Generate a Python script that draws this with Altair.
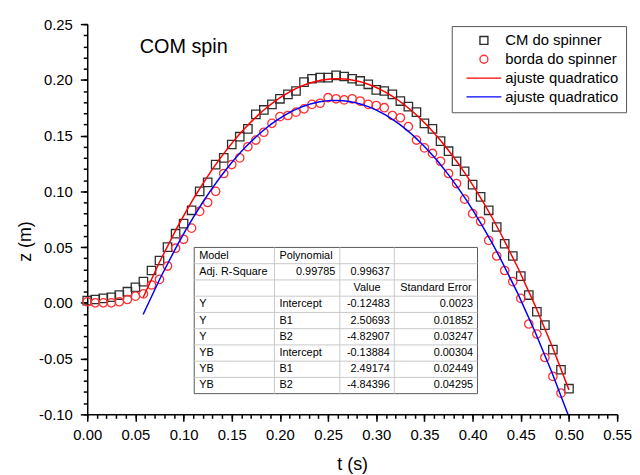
import altair as alt
import pandas as pd

FONT = "Liberation Sans"

# ---------------- data ----------------
t_s = [0.0000, 0.0083, 0.0167, 0.0250, 0.0333, 0.0417, 0.0500, 0.0583, 0.0667, 0.0750,
       0.0833, 0.0917, 0.1000, 0.1083, 0.1167, 0.1250, 0.1333, 0.1417, 0.1500, 0.1583,
       0.1667, 0.1750, 0.1833, 0.1917, 0.2000, 0.2083, 0.2167, 0.2250, 0.2333, 0.2417,
       0.2500, 0.2583, 0.2667, 0.2750, 0.2833, 0.2917, 0.3000, 0.3083, 0.3167, 0.3250,
       0.3333, 0.3417, 0.3500, 0.3583, 0.3667, 0.3750, 0.3833, 0.3917, 0.4000, 0.4083,
       0.4167, 0.4250, 0.4333, 0.4417, 0.4500, 0.4583, 0.4667, 0.4750, 0.4833, 0.4917,
       0.5000]

cm_z = [0.002, 0.003, 0.004, 0.005, 0.007, 0.010, 0.014, 0.019, 0.029, 0.038,
        0.050, 0.062, 0.071, 0.083, 0.100, 0.108, 0.124, 0.130, 0.142, 0.149,
        0.156, 0.169, 0.173, 0.178, 0.183, 0.187, 0.190, 0.198, 0.201, 0.202,
        0.202, 0.204, 0.203, 0.201, 0.199, 0.196, 0.191, 0.190, 0.187, 0.181,
        0.176, 0.171, 0.161, 0.156, 0.145, 0.136, 0.127, 0.118, 0.106, 0.095,
        0.083, 0.068, 0.053, 0.042, 0.024, 0.007, -0.008, -0.020, -0.042, -0.060,
        -0.077]

borda_z = [0.001, 0.000, 0.000, 0.000, 0.001, 0.003, 0.006, 0.008, 0.016, 0.021,
           0.033, 0.049, 0.057, 0.067, 0.082, 0.090, 0.100, 0.116, 0.124, 0.130,
           0.140, 0.146, 0.153, 0.161, 0.167, 0.168, 0.171, 0.174, 0.178, 0.179,
           0.184, 0.183, 0.182, 0.183, 0.181, 0.178, 0.177, 0.175, 0.168, 0.166,
           0.158, 0.146, 0.139, 0.134, 0.127, 0.116, 0.107, 0.093, 0.080, 0.073,
           0.056, 0.042, 0.029, 0.019, 0.004, -0.019, -0.028, -0.049, -0.066, -0.081]

series_names = ["CM do spinner", "borda do spinner", "ajuste quadratico", "ajuste quadratico "]
series_colors = ["#2e2e2e", "#ff3030", "#ff0000", "#0000ff"]

table_rows = [
    ["Model", "Polynomial", "", ""],
    ["Adj. R-Square", "0.99785", "0.99637", ""],
    ["", "", "Value", "Standard Error"],
    ["Y", "Intercept", "-0.12483", "0.0023"],
    ["Y", "B1", "2.50693", "0.01852"],
    ["Y", "B2", "-4.82907", "0.03247"],
    ["YB", "Intercept", "-0.13884", "0.00304"],
    ["YB", "B1", "2.49174", "0.02449"],
    ["YB", "B2", "-4.84396", "0.04295"],
]

annotation = "COM spin"
x_title = "t (s)"
y_title = "z (m)"

x_major = [0.00, 0.05, 0.10, 0.15, 0.20, 0.25, 0.30, 0.35, 0.40, 0.45, 0.50, 0.55]
y_major = [-0.10, -0.05, 0.00, 0.05, 0.10, 0.15, 0.20, 0.25]
x_minor = [round(0.01 * k, 2) for k in range(56)]
y_minor = [round(-0.10 + 0.01 * k, 2) for k in range(36)]

# ---------------- layout ----------------
T_DOMAIN = [0.0, 0.55]
Z_DOMAIN = [-0.10, 0.25]
PLOT_LEFT, PLOT_TOP, PLOT_W, PLOT_H = 88, 22, 535, 394   # page pixels


def t_at(px):
    return T_DOMAIN[0] + (px - PLOT_LEFT) / PLOT_W * (T_DOMAIN[1] - T_DOMAIN[0])


def z_at(py):
    return Z_DOMAIN[1] - (py - PLOT_TOP) / PLOT_H * (Z_DOMAIN[1] - Z_DOMAIN[0])


pts = pd.DataFrame({
    "t": t_s + t_s[:len(borda_z)],
    "z": cm_z + borda_z,
    "serie": [series_names[0]] * len(cm_z) + [series_names[1]] * len(borda_z),
})

lab = "datum.value < 0 ? '-' + format(-datum.value, '.2f') : format(datum.value, '.2f')"

common_axis = dict(grid=False, domainColor="black", domainWidth=1.5, tickColor="black",
                   tickWidth=1.5, tickSize=7, labelFont=FONT, labelFontSize=15,
                   labelColor="black", titleFont=FONT, titleFontSize=18,
                   titleFontWeight="normal", titleColor="black", labelOverlap=False,
                   labelFlush=False, labelExpr=lab)
x_axis = alt.Axis(values=x_major, orient="bottom", labelPadding=6, titlePadding=14, **common_axis)
y_axis = alt.Axis(values=y_major, orient="left", labelPadding=8, titlePadding=4, titleY=219,
                  **common_axis)

minor_common = dict(grid=False, domain=False, labels=False, ticks=True, tickSize=4,
                    tickWidth=1.5, tickColor="black")
x_minor_axis = alt.Axis(values=x_minor, orient="bottom", **minor_common)
y_minor_axis = alt.Axis(values=y_minor, orient="left", **minor_common)

xs = alt.Scale(domain=T_DOMAIN, nice=False, zero=False)
ys = alt.Scale(domain=Z_DOMAIN, nice=False, zero=False)


def X(field="t"):
    return alt.X(f"{field}:Q", scale=xs, axis=x_axis, title=x_title)


def Y(field="z"):
    return alt.Y(f"{field}:Q", scale=ys, axis=y_axis, title=y_title)


line_path = "M-4.4,0L4.4,0"
color_scale = alt.Scale(domain=series_names, range=series_colors)
shape_scale = alt.Scale(domain=series_names, range=["square", "circle", line_path, line_path])
legend = alt.Legend(title=None, orient="none", legendX=368, legendY=2, direction="vertical",
                    symbolSize=64, symbolStrokeWidth=1.4, symbolOffset=18, labelOffset=14,
                    labelFont=FONT, labelFontSize=15, labelColor="black", padding=7,
                    rowPadding=3, strokeColor="#555555", fillColor="white")

points = alt.Chart(pts).mark_point(filled=False, size=72, strokeWidth=1.3, opacity=1).encode(
    x=X(), y=Y(),
    color=alt.Color("serie:N", scale=color_scale, legend=legend),
    shape=alt.Shape("serie:N", scale=shape_scale, legend=legend),
)


def fit_line(src, name):
    return (alt.Chart(pts)
            .transform_filter(alt.datum.serie == src)
            .transform_filter(alt.datum.t >= 0.058)
            .transform_regression("t", "z", method="poly", order=2, extent=[0.058, 0.5])
            .transform_calculate(serie=f"'{name}'")
            .mark_line(strokeWidth=1.5, clip=True)
            .encode(x=X(), y=Y(), color=alt.Color("serie:N", scale=color_scale, legend=legend)))


red_fit = fit_line(series_names[0], series_names[2])
blue_fit = fit_line(series_names[1], series_names[3])

# ---------------- table ----------------
col_edges = [196, 277, 343, 398, 482]
row_top, row_h = 247.5, 16.4
n_rows = len(table_rows)
row_bot = row_top + row_h * n_rows

bg = pd.DataFrame({"x": [t_at(col_edges[0])], "x2": [t_at(col_edges[-1])],
                   "y": [z_at(row_top)], "y2": [z_at(row_bot)]})
table_bg = alt.Chart(bg).mark_rect(fill="white", stroke="#5a5a5a", strokeWidth=1).encode(
    x=X("x"), x2="x2:Q", y=Y("y"), y2="y2:Q")

h_lines = pd.DataFrame({"x": [t_at(col_edges[0])] * (n_rows - 1),
                        "x2": [t_at(col_edges[-1])] * (n_rows - 1),
                        "y": [z_at(row_top + row_h * k) for k in range(1, n_rows)]})
v_lines = pd.DataFrame({"x": [t_at(c) for c in col_edges[1:-1]],
                        "y": [z_at(row_top)] * 3, "y2": [z_at(row_bot)] * 3})
table_h = alt.Chart(h_lines).mark_rule(color="#c8c8c8", strokeWidth=1).encode(
    x=X("x"), x2="x2:Q", y=Y("y"))
table_v = alt.Chart(v_lines).mark_rule(color="#c8c8c8", strokeWidth=1).encode(
    x=X("x"), y=Y("y"), y2="y2:Q")

cells = {"left": [], "right": [], "center": []}
for r, row in enumerate(table_rows):
    for c, txt in enumerate(row):
        if not txt:
            continue
        if r == 2:
            al, px = "center", (col_edges[c] + col_edges[c + 1]) / 2
        elif c == 0 or (c == 1 and r != 1):
            al, px = "left", col_edges[c] + 5
        else:
            al, px = "right", col_edges[c + 1] - 4.5
        cells[al].append({"x": t_at(px), "y": z_at(row_top + row_h * (r + 0.5)), "txt": txt})

table_text = [
    alt.Chart(pd.DataFrame(v)).mark_text(align=al, baseline="middle", font=FONT,
                                         fontSize=11, color="black")
    .encode(x=X("x"), y=Y("y"), text="txt:N")
    for al, v in cells.items()
]

note = alt.Chart(pd.DataFrame({"txt": [annotation]})).mark_text(
    align="left", baseline="middle", font=FONT, fontSize=20, color="black").encode(
    x=alt.datum(t_at(141)), y=alt.datum(z_at(45)), text="txt:N")

main = alt.layer(points, red_fit, blue_fit, table_bg, table_h, table_v, *table_text, note)

minor = alt.Chart(pts).mark_point(opacity=0).encode(
    x=alt.X("t:Q", scale=xs, axis=x_minor_axis, title=None),
    y=alt.Y("z:Q", scale=ys, axis=y_minor_axis, title=None),
)

chart = alt.layer(minor, main).resolve_scale(x="independent", y="independent").properties(
    width=PLOT_W, height=PLOT_H,
    autosize=alt.AutoSizeParams(type="none"),
    padding={"left": 80, "top": 14, "right": 15, "bottom": 60},
    background="white",
).configure_view(stroke=None)

chart.save("out.html", embed_options={"renderer": "svg", "actions": False})
